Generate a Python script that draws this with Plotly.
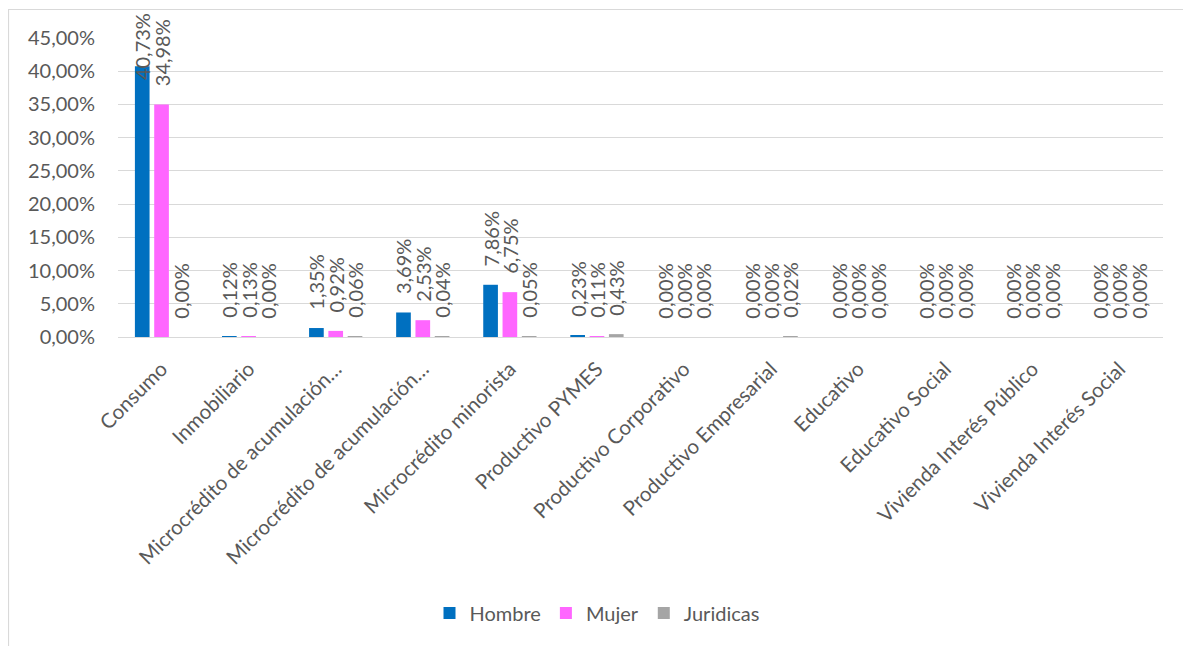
import plotly.graph_objects as go

categorias = [
    "Consumo", "Inmobiliario", "Microcrédito de acumulación…",
    "Microcrédito de acumulación…", "Microcrédito minorista", "Productivo PYMES",
    "Productivo Corporativo", "Productivo Empresarial", "Educativo",
    "Educativo Social", "Vivienda Interés Público", "Vivienda Interés Social",
]
hombre = [0.4073, 0.0012, 0.0135, 0.0369, 0.0786, 0.0023, 0.0, 0.0, 0.0, 0.0, 0.0, 0.0]
mujer = [0.3498, 0.0013, 0.0092, 0.0253, 0.0675, 0.0011, 0.0, 0.0, 0.0, 0.0, 0.0, 0.0]
juridicas = [0.0, 0.0, 0.0006, 0.0004, 0.0005, 0.0043, 0.0, 0.0002, 0.0, 0.0, 0.0, 0.0]

series = [("Hombre", hombre, "#0070C0"), ("Mujer", mujer, "#FF66FF"), ("Juridicas", juridicas, "#A5A5A5")]

Y_MAX = 0.45
FONT = "Lato"
TXT = "#595959"
GRID = "#D9D9D9"
PAD = "\u00a0\u00a0\u00a0"
BARGAP, GROUPGAP = 0.335, 0.24

x_idx = list(range(len(categorias)))

# page has an 8px body margin; work in page pixels and convert
OFF = 8
W, H = 1191 - OFF, 646 - OFF
PL, PR, PT, PB = 118, 1163, 38, 337  # plot area in page pixels
L, R, T, B = PL - OFF, W - (PR - OFF), PT - OFF, H - (PB - OFF)
pw, ph = W - L - R, H - T - B


def px_x(v):
    return (v - OFF - L) / pw


def px_y(v):
    return (H - B - (v - OFF)) / ph


fig = go.Figure()
annotations = []
slot = pw / len(categorias) * (1 - BARGAP) / len(series)
for k, (name, vals, color) in enumerate(series):
    high = [v / Y_MAX > 0.85 for v in vals]
    tmpl = ["" if h else PAD + "%{y:.2%}" for h in high]
    fig.add_trace(go.Bar(
        x=x_idx, y=vals, name=name, marker=dict(color=color, line=dict(width=0)),
        texttemplate=tmpl, textposition="outside", textangle=-90,
        textfont=dict(family=FONT, size=20, color=TXT),
        constraintext="none", cliponaxis=False, hoverinfo="skip",
    ))
    for i, (v, h) in enumerate(zip(vals, high)):
        if h:
            annotations.append(dict(
                x=x_idx[i], y=v, xref="x", yref="y", showarrow=False,
                text=f"{v * 100:.2f}%".replace(".", ","), textangle=-90,
                xanchor="center", yanchor="bottom",
                xshift=(k - (len(series) - 1) / 2) * slot, yshift=-16,
                font=dict(family=FONT, size=20, color=TXT),
            ))

fig.update_layout(
    width=W, height=H,
    margin=dict(l=L, r=R, t=T, b=B, pad=0, autoexpand=False),
    paper_bgcolor="white", plot_bgcolor="white",
    separators=",.",
    barmode="group", bargap=BARGAP, bargroupgap=GROUPGAP,
    font=dict(family=FONT, color=TXT, size=20),
    showlegend=True,
    legend=dict(orientation="h", x=px_x(597), xanchor="center", y=px_y(613), yanchor="middle",
                font=dict(family=FONT, size=20, color=TXT), traceorder="normal",
                itemwidth=30),
    xaxis=dict(tickmode="array", tickvals=x_idx, ticktext=categorias, tickangle=-45,
               range=[-0.5, len(categorias) - 0.5], showgrid=False, showline=True,
               linecolor=GRID, linewidth=1, ticks="outside", ticklen=11,
               tickcolor="rgba(0,0,0,0)",
               tickfont=dict(family=FONT, size=20.5, color=TXT),
               automargin=False, fixedrange=True),
    yaxis=dict(range=[0, Y_MAX], dtick=0.05, tickformat=".2%", showgrid=True, gridcolor=GRID,
               gridwidth=1, zeroline=False, showline=False, ticks="outside", ticklen=18,
               tickcolor="rgba(0,0,0,0)",
               tickfont=dict(family=FONT, size=20, color=TXT), automargin=False, fixedrange=True),
    annotations=annotations,
    shapes=[dict(type="rect", xref="paper", yref="paper",
                 x0=px_x(8.5), x1=px_x(1200), y0=px_y(660), y1=px_y(9.5),
                 line=dict(color=GRID, width=1.2), fillcolor="rgba(0,0,0,0)", layer="below")],
)

fig.write_html("out.html")
